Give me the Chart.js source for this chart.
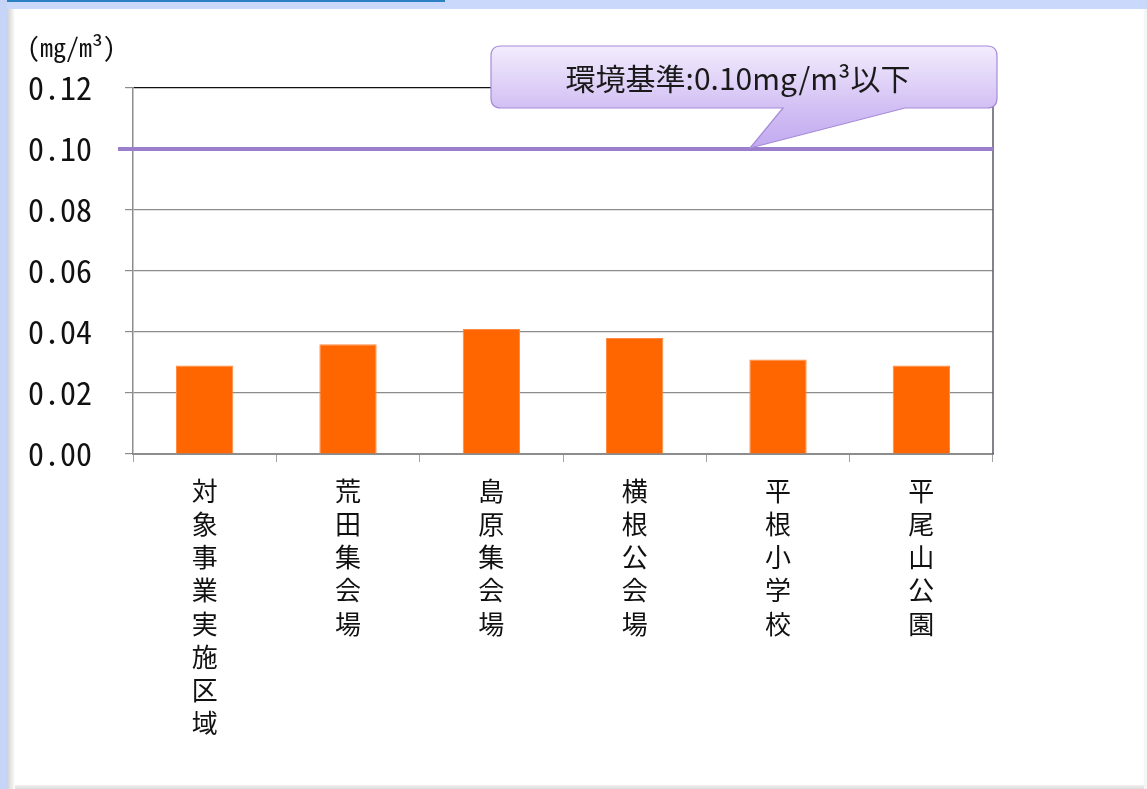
<!DOCTYPE html>
<html>
<head>
<meta charset="utf-8">
<script src="https://cdn.jsdelivr.net/npm/chart.js@4"></script>
<style>
  html, body { margin: 0; padding: 0; width: 1147px; height: 789px; overflow: hidden; background: #ffffff; }
  #topband { position: absolute; left: 0; top: 0; width: 1147px; height: 9px; background: #c9d8fb; }
  #topline { position: absolute; left: 0; top: 0; width: 445px; height: 2px; background: #2b80c4; }
  #leftband { position: absolute; left: 0; top: 0; width: 7px; height: 789px; background: #c6d4f7; }
  #leftshade { position: absolute; left: 7px; top: 9px; width: 8px; height: 780px; background: linear-gradient(to right, #cfcfcf, #f4f4f4 80%, #ffffff); }
  #bottomline { position: absolute; left: 15px; top: 785px; width: 1132px; height: 4px; background: linear-gradient(to bottom, #f0f0f0, #dcdcdc); }
  #rightline { position: absolute; left: 1144px; top: 9px; width: 3px; height: 780px; background: #f5f5f5; }
  #wrap { position: absolute; left: 0; top: 0; width: 1147px; height: 789px; }
</style>
</head>
<body>
<div id="topband"></div>
<div id="topline"></div>
<div id="leftband"></div>
<div id="leftshade"></div>
<div id="bottomline"></div>
<div id="rightline"></div>
<div id="wrap"><canvas id="c" width="1147" height="789"></canvas></div>
<script>
const categories = ['対象事業実施区域', '荒田集会場', '島原集会場', '横根公会場', '平根小学校', '平尾山公園'];
const values = [0.029, 0.036, 0.041, 0.038, 0.031, 0.029];
const yTickLabels = ['0.00', '0.02', '0.04', '0.06', '0.08', '0.10', '0.12'];
const standardValue = 0.10;
const standardText = '環境基準:0.10mg/m³以下';
const unitText = '(mg/m³)';

const monoFont = "'Noto Sans Mono CJK JP', 'Liberation Mono', monospace";
const cjkFont = "'Noto Sans CJK JP', 'Noto Sans', sans-serif";

const decorPlugin = {
  id: 'decor',
  afterDraw(chart) {
    const ctx = chart.ctx;
    const ys = chart.scales.y;
    const ca = chart.chartArea;
    const yStd = ys.getPixelForValue(standardValue);

    // right border
    ctx.save();
    ctx.strokeStyle = '#5a5a66';
    ctx.lineWidth = 1.5;
    ctx.beginPath();
    ctx.moveTo(ca.right, ca.top);
    ctx.lineTo(ca.right, ca.bottom);
    ctx.stroke();
    ctx.restore();

    // standard line
    ctx.save();
    ctx.strokeStyle = '#9b7fcc';
    ctx.lineWidth = 4;
    ctx.beginPath();
    ctx.moveTo(ca.left - 15, yStd);
    ctx.lineTo(ca.right, yStd);
    ctx.stroke();
    ctx.restore();

    // callout
    const bx = ca.left + 358, by = ca.top - 42, bw = 506, bh = 62, r = 10;
    const tipX = ca.left + 617, tipY = yStd - 1;
    const t1 = bx + 292, t2 = bx + 414;
    ctx.save();
    ctx.beginPath();
    ctx.moveTo(bx + r, by);
    ctx.lineTo(bx + bw - r, by);
    ctx.quadraticCurveTo(bx + bw, by, bx + bw, by + r);
    ctx.lineTo(bx + bw, by + bh - r);
    ctx.quadraticCurveTo(bx + bw, by + bh, bx + bw - r, by + bh);
    ctx.lineTo(t2, by + bh);
    ctx.lineTo(tipX, tipY);
    ctx.lineTo(t1, by + bh);
    ctx.lineTo(bx + r, by + bh);
    ctx.quadraticCurveTo(bx, by + bh, bx, by + bh - r);
    ctx.lineTo(bx, by + r);
    ctx.quadraticCurveTo(bx, by, bx + r, by);
    ctx.closePath();
    const g = ctx.createLinearGradient(0, by, 0, tipY);
    g.addColorStop(0, '#f3ecfd');
    g.addColorStop(0.6, '#d2c0f4');
    g.addColorStop(1, '#c2aaf0');
    ctx.fillStyle = g;
    ctx.fill();
    ctx.strokeStyle = '#a68cd8';
    ctx.lineWidth = 1.2;
    ctx.stroke();
    ctx.fillStyle = '#1a1a1a';
    ctx.font = "30px " + cjkFont;
    ctx.textAlign = 'center';
    ctx.textBaseline = 'middle';
    ctx.fillText(standardText, bx + 247, by + 33);
    ctx.restore();

    // unit label
    ctx.save();
    ctx.fillStyle = '#111';
    ctx.font = "26px " + monoFont;
    ctx.textAlign = 'left';
    ctx.textBaseline = 'alphabetic';
    ctx.fillText(unitText, 27, 57);
    ctx.restore();
  }
};

new Chart(document.getElementById('c'), {
  type: 'bar',
  data: {
    labels: categories.map(s => Array.from(s)),
    datasets: [{
      data: values,
      backgroundColor: '#ff6600',
      borderColor: '#ff8a40',
      borderWidth: 1,
      barPercentage: 0.4,
      categoryPercentage: 1.0
    }]
  },
  options: {
    responsive: false,
    animation: false,
    devicePixelRatio: 1,
    layout: { padding: { left: 0, right: 154, top: 88, bottom: 0 } },
    plugins: { legend: { display: false }, tooltip: { enabled: false } },
    scales: {
      y: {
        min: 0, max: 0.12,
        afterFit(scale) { scale.width = 133; },
        ticks: {
          stepSize: 0.02,
          padding: 33,
          color: '#111',
          font: { family: monoFont, size: 32 },
          callback: (v, i) => yTickLabels[i]
        },
        grid: {
          color: ctx => (ctx.tick && Math.abs(ctx.tick.value - 0.12) < 1e-9) ? '#111111' : '#8c8c8c',
          lineWidth: 1.2,
          tickLength: 8,
          tickColor: '#8c8c8c'
        },
        border: { color: '#8c8c8c', width: 1.5 }
      },
      x: {
        afterFit(scale) { scale.height = 335; },
        ticks: {
          padding: 12,
          color: '#111',
          font: { family: cjkFont, size: 26, lineHeight: 1.28 },
          maxRotation: 0, minRotation: 0, autoSkip: false
        },
        grid: {
          offset: true,
          drawOnChartArea: false,
          tickLength: 8,
          color: '#a0a0a0'
        },
        border: { color: '#8c8c8c', width: 2 }
      }
    }
  },
  plugins: [decorPlugin]
});
</script>
</body>
</html>
